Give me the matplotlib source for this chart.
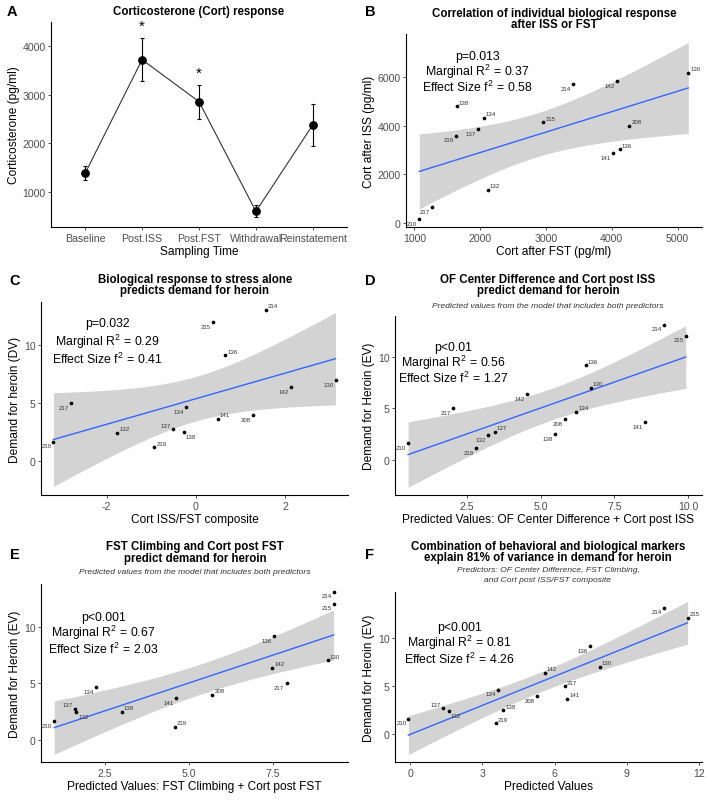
import numpy as np
import matplotlib
matplotlib.use("Agg")
import matplotlib.pyplot as plt

plt.rcParams['font.family'] = ['Liberation Sans', 'DejaVu Sans']
plt.rcParams['mathtext.fontset'] = 'custom'
plt.rcParams['mathtext.rm'] = 'Liberation Sans'
plt.rcParams['mathtext.it'] = 'Liberation Sans:italic'
plt.rcParams['mathtext.bf'] = 'Liberation Sans:bold'
plt.rcParams['axes.unicode_minus'] = False

# ---- data ----
# panel A : cort over sampling times
times = ["Baseline", "Post.ISS", "Post.FST", "Withdrawal", "Reinstatement"]
cort_mean = [1377, 3722, 2856, 589, 2377]
cort_sem = [145, 450, 353, 125, 428]
cort_sig = [False, True, True, False, False]

# animals
subjects = ["130", "132", "134", "136", "137", "138", "141", "142", "208", "210", "214", "215", "217", "219"]
demand = [7.0, 2.41, 4.62, 9.15, 2.7, 2.47, 3.65, 6.35, 3.94, 1.63, 13.09, 12.03, 4.97, 1.15]

# panel B
cort_fst = [5162, 2114, 2053, 4124, 1972, 1643, 4023, 4073, 4266, 1076, 3415, 2959, 1263, 1633]
cort_iss = [6179, 1352, 4317, 3034, 3862, 4800, 2869, 5848, 3986, 138, 5710, 4138, 648, 3586]
# panel C
cort_composite = [3.13, -1.76, -0.21, 0.66, -0.52, -0.27, 0.49, 2.13, 1.28, -3.19, 1.57, 0.38, -2.79, -0.93]
# panel D
pred_of_cort = [6.69, 3.2, 6.2, 6.52, 3.44, 5.48, 8.53, 4.52, 5.83, 0.50, 9.17, 9.92, 2.03, 2.81]
# panel E
pred_fst_cort = [9.13, 1.64, 2.23, 7.53, 1.6, 2.99, 4.61, 7.48, 5.69, 0.985, 9.3, 9.3, 7.9, 4.58]
# panel F
pred_all = [7.88, 1.6, 3.64, 7.47, 1.36, 3.86, 6.53, 5.6, 5.26, -0.08, 10.54, 11.54, 6.42, 3.55]

stats_B = ["p=0.013", "0.37", "0.58"]
stats_C = ["p=0.032", "0.29", "0.41"]
stats_D = ["p<0.01", "0.56", "1.27"]
stats_E = ["p<0.001", "0.67", "2.03"]
stats_F = ["p<0.001", "0.81", "4.26"]

W, H = 708, 803
fig = plt.figure(figsize=(W / 100, H / 100), dpi=100)


def add_ax(l, r, t, b):
    return fig.add_axes([l / W, 1 - b / H, (r - l) / W, (b - t) / H])


def ftext(x, y, s, **kw):
    fig.text(x / W, 1 - y / H, s, ha='center', va='center', **kw)


def style(ax, xlabel, ylabel):
    for s in ['top', 'right']:
        ax.spines[s].set_visible(False)
    for s in ['left', 'bottom']:
        ax.spines[s].set_linewidth(0.8)
    ax.tick_params(labelsize=7.6, labelcolor='#4D4D4D', color='#333333', length=2.5, width=0.6, pad=1.5)
    ax.set_xlabel(xlabel, fontsize=8.6, labelpad=2)
    ax.set_ylabel(ylabel, fontsize=8.6, labelpad=2)


def lm_band(x, y):
    x = np.asarray(x, float)
    y = np.asarray(y, float)
    b, a = np.polyfit(x, y, 1)
    xs = np.linspace(x.min(), x.max(), 100)
    fit = a + b * xs
    resid = y - (a + b * x)
    s = np.sqrt(np.sum(resid ** 2) / (len(x) - 2))
    se = s * np.sqrt(1 / len(x) + (xs - x.mean()) ** 2 / np.sum((x - x.mean()) ** 2))
    t = 2.1788  # t quantile 0.975, df=12
    return xs, fit, fit - t * se, fit + t * se


offs = {'ur': (1.5, 1.2, 'left', 'bottom'), 'll': (-1.5, -1.2, 'right', 'top'),
        'ul': (-1.5, 1.2, 'right', 'bottom'), 'lr': (1.5, -1.2, 'left', 'top')}


def scatter_panel(ax, x, y, lab_pos, stats, stat_xy):
    xs, fit, lo, hi = lm_band(x, y)
    ax.fill_between(xs, lo, hi, color='#D3D3D3', lw=0, zorder=1)
    ax.plot(xs, fit, color='#3366FF', lw=1.0, zorder=2)
    ax.scatter(x, y, s=7, color='black', zorder=3, linewidths=0)
    for sid, xi, yi in zip(subjects, x, y):
        dx, dy, ha, va = offs[lab_pos.get(sid, 'ur')]
        ax.annotate(sid, (xi, yi), xytext=(dx, dy), textcoords='offset points',
                    fontsize=4.4, color='#333333', ha=ha, va=va)
    sx, sy = stat_xy
    ax.text(sx, sy[0], stats[0], fontsize=8.8, ha='center', va='center')
    ax.text(sx, sy[1], "Marginal R$^{2}$$\\,=\\,$" + stats[1], fontsize=8.8, ha='center', va='center')
    ax.text(sx, sy[2], "Effect Size f$^{2}$$\\,=\\,$" + stats[2], fontsize=8.8, ha='center', va='center')


# ---- A ----
axA = add_ax(51, 347, 23, 228)
xpos = np.arange(1, len(times) + 1)
axA.plot(xpos, cort_mean, color='#333333', lw=0.8, zorder=1)
axA.errorbar(xpos, cort_mean, yerr=cort_sem, fmt='none', ecolor='black', elinewidth=0.8, capsize=1.5, capthick=0.8, zorder=2)
axA.scatter(xpos, cort_mean, s=28, color='black', zorder=3)
for xi, m, e, sg in zip(xpos, cort_mean, cort_sem, cort_sig):
    if sg:
        axA.text(xi, m + e + 250, "*", fontsize=11, ha='center', va='center')
axA.set_xticks(xpos)
axA.set_xticklabels(times)
axA.set_xlim(0.4, 5.6)
axA.set_ylim(267, 4500)
axA.set_yticks([1000, 2000, 3000, 4000])
style(axA, "Sampling Time", "Corticosterone (pg/ml)")
ftext(12, 12, "A", fontsize=10.5, fontweight='bold')
ftext(199, 12, "Corticosterone (Cort) response", fontsize=8.3, fontweight='bold')

# ---- B ----
axB = add_ax(406, 702, 35, 228)
scatter_panel(axB, cort_fst, cort_iss,
              {'142': 'll', '214': 'll', '137': 'll', '219': 'll', '141': 'll', '217': 'll', '210': 'll'},
              stats_B, (1960, [6870, 6276, 5614]))
axB.set_xlim(874, 5370)
axB.set_ylim(-180, 7790)
axB.set_xticks([1000, 2000, 3000, 4000, 5000])
axB.set_yticks([0, 2000, 4000, 6000])
style(axB, "Cort after FST (pg/ml)", "Cort after ISS (pg/ml)")
ftext(370, 12, "B", fontsize=10.5, fontweight='bold')
ftext(554, 14, "Correlation of individual biological response", fontsize=8.3, fontweight='bold')
ftext(554, 25, "after ISS or FST", fontsize=8.3, fontweight='bold')

# ---- C ----
axC = add_ax(41, 348, 303, 496)
scatter_panel(axC, cort_composite, demand,
              {'215': 'll', '130': 'll', '142': 'll', '217': 'll', '134': 'll', '208': 'll', '137': 'ul',
               '138': 'lr', '210': 'll'},
              stats_C, (-1.99, [11.94, 10.38, 8.84]))
axC.set_xlim(-3.47, 3.41)
axC.set_ylim(-2.99, 13.77)
axC.set_xticks([-2, 0, 2])
axC.set_yticks([0, 5, 10])
style(axC, "Cort ISS/FST composite", "Demand for heroin (DV)")
ftext(15, 281, "C", fontsize=10.5, fontweight='bold')
ftext(195, 280, "Biological response to stress alone", fontsize=8.3, fontweight='bold')
ftext(195, 291, "predicts demand for heroin", fontsize=8.3, fontweight='bold')

# ---- D ----
axD = add_ax(395, 702, 317, 496)
scatter_panel(axD, pred_of_cort, demand,
              {'214': 'll', '215': 'll', '142': 'll', '217': 'll', '208': 'll', '132': 'll', '219': 'll',
               '138': 'll', '141': 'll', '210': 'll'},
              stats_D, (2.02, [10.97, 9.52, 7.97]))
axD.set_xlim(0.056, 10.47)
axD.set_ylim(-3.42, 13.94)
axD.set_xticks([2.5, 5.0, 7.5, 10.0])
axD.set_xticklabels(["2.5", "5.0", "7.5", "10.0"])
axD.set_yticks([0, 5, 10])
style(axD, "Predicted Values: OF Center Difference + Cort post ISS", "Demand for Heroin (EV)")
ftext(370, 281, "D", fontsize=10.5, fontweight='bold')
ftext(548, 280, "OF Center Difference and Cort post ISS", fontsize=8.3, fontweight='bold')
ftext(548, 291, "predict demand for heroin", fontsize=8.3, fontweight='bold')
ftext(548, 307, "Predicted values from the model that includes both predictors", fontsize=6.1,
      style='italic', color='#333333')

# ---- E ----
axE = add_ax(41, 348, 585, 763)
scatter_panel(axE, pred_fst_cort, demand,
              {'214': 'll', '215': 'll', '136': 'll', '217': 'll', '141': 'll', '134': 'll', '137': 'ul',
               '132': 'lr', '210': 'll'},
              stats_E, (2.45, [10.88, 9.5, 8.09]))
axE.set_xlim(0.59, 9.73)
axE.set_ylim(-1.97, 13.76)
axE.set_xticks([2.5, 5.0, 7.5])
axE.set_xticklabels(["2.5", "5.0", "7.5"])
axE.set_yticks([0, 5, 10])
style(axE, "Predicted Values: FST Climbing + Cort post FST", "Demand for Heroin (EV)")
ftext(15, 555, "E", fontsize=10.5, fontweight='bold')
ftext(195, 547, "FST Climbing and Cort post FST", fontsize=8.3, fontweight='bold')
ftext(195, 559, "predict demand for heroin", fontsize=8.3, fontweight='bold')
ftext(195, 573, "Predicted values from the model that includes both predictors", fontsize=6.1,
      style='italic', color='#333333')

# ---- F ----
axF = add_ax(395, 702, 593, 763)
scatter_panel(axF, pred_all, demand,
              {'214': 'll', '136': 'll', '208': 'll', '134': 'll', '137': 'ul', '132': 'lr', '210': 'll'},
              stats_F, (2.03, [11.1, 9.55, 7.83]))
axF.set_xlim(-0.64, 12.14)
axF.set_ylim(-2.86, 14.72)
axF.set_xticks([0, 3, 6, 9, 12])
axF.set_yticks([0, 5, 10])
style(axF, "Predicted Values", "Demand for Heroin (EV)")
ftext(369, 555, "F", fontsize=10.5, fontweight='bold')
ftext(548, 547, "Combination of behavioral and biological markers", fontsize=8.3, fontweight='bold')
ftext(548, 558, "explain 81% of variance in demand for heroin", fontsize=8.3, fontweight='bold')
ftext(548, 571, "Predictors: OF Center Difference, FST Climbing,", fontsize=6.1, style='italic', color='#333333')
ftext(548, 581, "and Cort post ISS/FST composite", fontsize=6.1, style='italic', color='#333333')

fig.savefig("out.png", dpi=100)
